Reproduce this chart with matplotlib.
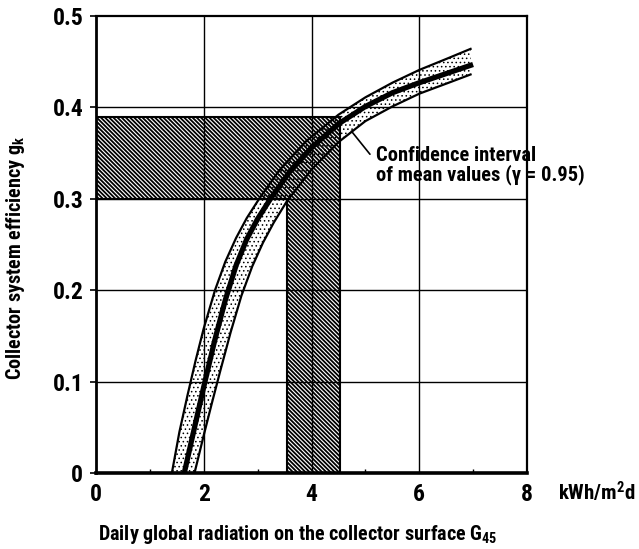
import matplotlib
matplotlib.use("Agg")
import matplotlib.pyplot as plt
from matplotlib import font_manager
from matplotlib.patches import Polygon

# --- data -------------------------------------------------------------
# mean collector system efficiency vs. daily global radiation
mean_g = [1.64, 1.80, 2.00, 2.20, 2.40, 2.60, 2.80, 3.00, 3.25, 3.60, 4.00, 4.50, 5.00, 5.50, 6.00, 6.50, 6.95]
mean_eff = [0.000, 0.042, 0.094, 0.144, 0.189, 0.227, 0.256, 0.278, 0.301, 0.330, 0.356, 0.382, 0.401, 0.416, 0.427, 0.437, 0.446]

# upper limit of the confidence interval
upper_g = [1.41, 1.55, 1.70, 1.85, 2.00, 2.21, 2.40, 2.60, 2.80, 3.04, 3.40, 3.90, 4.50, 5.00, 5.50, 6.00, 6.50, 6.95]
upper_eff = [0.000, 0.045, 0.085, 0.123, 0.158, 0.200, 0.231, 0.257, 0.279, 0.301, 0.331, 0.363, 0.392, 0.411, 0.427, 0.441, 0.453, 0.464]

# lower limit of the confidence interval
lower_g = [1.83, 2.00, 2.15, 2.30, 2.50, 2.70, 2.90, 3.10, 3.30, 3.54, 4.00, 4.50, 5.00, 5.50, 6.00, 6.50, 6.95]
lower_eff = [0.000, 0.041, 0.076, 0.110, 0.154, 0.194, 0.226, 0.252, 0.274, 0.297, 0.332, 0.362, 0.385, 0.401, 0.415, 0.426, 0.436]

# operating range (radiation band and efficiency band)
g_band = [3.55, 4.52]
eff_band = [0.30, 0.39]

x_ticks = [0, 2, 4, 6, 8]
x_tick_labels = ["0", "2", "4", "6", "8"]
x_minor = [1, 3, 5, 7]
y_ticks = [0, 0.1, 0.2, 0.3, 0.4, 0.5]
y_tick_labels = ["0", "0.1", "0.2", "0.3", "0.4", "0.5"]

# --- fonts: prefer a narrow bold sans ---------------------------------
installed = {f.name for f in font_manager.fontManager.ttflist}
main_font = "DejaVu Sans"
for cand in ["Liberation Sans Narrow", "Roboto Condensed", "Open Sans Condensed",
             "Noto Sans Condensed", "Roboto", "Liberation Sans"]:
    if cand in installed:
        main_font = cand
        break
plt.rcParams["font.family"] = [main_font, "DejaVu Sans"]
plt.rcParams["font.weight"] = "bold"
plt.rcParams["mathtext.fontset"] = "custom"
plt.rcParams["mathtext.rm"] = main_font + ":bold"
plt.rcParams["mathtext.it"] = main_font + ":bold"
plt.rcParams["mathtext.bf"] = main_font + ":bold"
plt.rcParams["hatch.linewidth"] = 1.3
plt.rcParams["hatch.color"] = "black"

fig = plt.figure(figsize=(6.39, 5.49), dpi=100)
ax = fig.add_axes([0.150, 0.1384, 0.675, 0.8325])
ax.set_xlim(0, 8)
ax.set_ylim(0, 0.5)

# hatched L-shaped operating range
l_shape = [(0, eff_band[0]), (g_band[0], eff_band[0]), (g_band[0], 0),
           (g_band[1], 0), (g_band[1], eff_band[1]), (0, eff_band[1])]
ax.add_patch(Polygon(l_shape, closed=True, facecolor="white", edgecolor="black",
                     hatch="\\" * 8, lw=1.5, zorder=2))

# grid on top of the hatch
for gx in x_ticks[1:-1]:
    ax.axvline(gx, color="black", lw=1.0, zorder=2.5)
for gy in y_ticks[1:-1]:
    ax.axhline(gy, color="black", lw=1.0, zorder=2.5)

# stippled confidence band (finer dots)
band = list(zip(upper_g, upper_eff)) + list(zip(lower_g[::-1], lower_eff[::-1]))
with plt.rc_context({"hatch.linewidth": 0.6}):
    band_patch = Polygon(band, closed=True, facecolor="none", edgecolor="black",
                         hatch="." * 4, lw=0, zorder=3)
ax.add_patch(band_patch)
ax.plot(upper_g, upper_eff, color="black", lw=1.6, zorder=4, solid_joinstyle="round")
ax.plot(lower_g, lower_eff, color="black", lw=1.6, zorder=4, solid_joinstyle="round")
ax.plot(mean_g, mean_eff, color="black", lw=3.8, zorder=4, solid_joinstyle="round")

# axes styling
for side, lw in (("left", 2.0), ("bottom", 2.6), ("top", 1.6), ("right", 1.6)):
    ax.spines[side].set_linewidth(lw)
ax.set_xticks(x_ticks)
ax.set_xticklabels(x_tick_labels)
ax.set_xticks(x_minor, minor=True)
ax.set_yticks(y_ticks)
ax.set_yticklabels(y_tick_labels)
ax.tick_params(axis="both", labelsize=17, length=4, width=1.2, direction="out")
ax.tick_params(axis="x", which="major", length=0, pad=7)
ax.tick_params(axis="x", which="minor", length=3, width=1.0, direction="in")
ax.tick_params(axis="y", pad=5)

# annotation for the confidence interval
ax.annotate("Confidence interval\nof mean values (\u03b3 = 0.95)",
            xy=(4.74, 0.374), xytext=(5.2, 0.336),
            fontsize=14.8, ha="left", va="center", linespacing=0.95,
            arrowprops=dict(arrowstyle="-", color="black", lw=1.2,
                            shrinkA=0, shrinkB=0, relpos=(-0.03, 0.8)))

# axis titles
fig.text(0.024, 0.530, "Collector system efficiency g$_{\\mathrm{k}}$",
         rotation=90, ha="center", va="center", fontsize=14.5)
fig.text(0.466, 0.026, "Daily global radiation on the collector surface G$_{\\mathrm{45}}$",
         ha="center", va="center", fontsize=14.5)
fig.text(0.873, 0.104, "kWh/m$^{\\mathrm{2}}$d", ha="left", va="center", fontsize=15)

fig.savefig("out.png", dpi=100)
